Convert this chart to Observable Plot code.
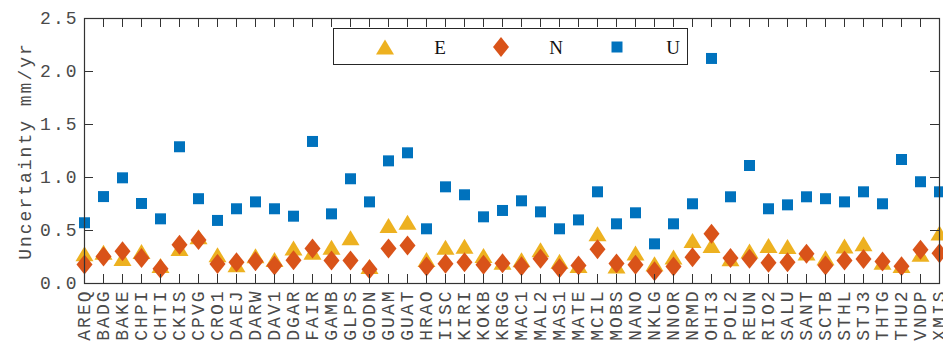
<!DOCTYPE html>
<html>
<head>
<meta charset="utf-8">
<script src="https://cdn.jsdelivr.net/npm/d3@7"></script>
<script src="https://cdn.jsdelivr.net/npm/@observablehq/plot@0.6"></script>
<style>
  html, body { margin: 0; padding: 0; background: #fff; }
  #wrap { position: relative; width: 943px; height: 343px; overflow: hidden; }
  #legend { position: absolute; left: 333px; top: 28px; width: 355px; height: 37px;
    border: 1px solid #262626; background: #fff; box-sizing: border-box; }
  #legend svg { position: absolute; left: 0; top: 0; }
</style>
</head>
<body>
<div id="wrap"></div>
<script>
const stations = ["AREQ","BADG","BAKE","CHPI","CHTI","CKIS","CPVG","CRO1","DAEJ","DARW","DAV1","DGAR","FAIR","GAMB","GLPS","GODN","GUAM","GUAT","HRAO","IISC","KIRI","KOKB","KRGG","MAC1","MAL2","MAS1","MATE","MCIL","MOBS","NANO","NKLG","NNOR","NRMD","OHI3","POL2","REUN","RIO2","SALU","SANT","SCTB","STHL","STJ3","THTG","THU2","VNDP","XMIS"];
const E = [0.28,0.295,0.235,0.30,0.17,0.33,0.44,0.27,0.175,0.26,0.225,0.335,0.295,0.34,0.43,0.16,0.547,0.578,0.226,0.342,0.35,0.264,0.20,0.223,0.318,0.208,0.17,0.469,0.163,0.286,0.186,0.248,0.405,0.358,0.233,0.305,0.358,0.349,0.286,0.242,0.352,0.374,0.20,0.17,0.274,0.475];
const N = [0.18,0.255,0.305,0.24,0.14,0.365,0.41,0.185,0.20,0.21,0.17,0.22,0.33,0.217,0.217,0.135,0.33,0.358,0.16,0.186,0.20,0.176,0.19,0.163,0.233,0.145,0.17,0.324,0.189,0.176,0.116,0.16,0.248,0.469,0.24,0.233,0.195,0.20,0.28,0.17,0.217,0.23,0.207,0.163,0.318,0.286];
const U = [0.573,0.82,0.997,0.755,0.61,1.29,0.80,0.595,0.705,0.77,0.705,0.635,1.34,0.657,0.988,0.77,1.157,1.233,0.516,0.912,0.837,0.629,0.689,0.78,0.676,0.516,0.60,0.865,0.563,0.667,0.374,0.563,0.752,2.123,0.818,1.113,0.705,0.742,0.818,0.80,0.77,0.865,0.752,1.17,0.96,0.865];
const yTicks = [0, 0.5, 1.0, 1.5, 2.0, 2.5];
const seriesNames = ["E", "N", "U"];
const seriesColors = ["#EDB120", "#D95319", "#0072BD"];
const yLabel = "Uncertainty mm/yr";

// custom MATLAB-like marker shapes
const triSym = { draw(ctx) { ctx.moveTo(0, -7.6); ctx.lineTo(9, 7.4); ctx.lineTo(-9, 7.4); ctx.closePath(); } };
const diaSym = { draw(ctx) { ctx.moveTo(0, -10); ctx.lineTo(8, 0); ctx.lineTo(0, 10); ctx.lineTo(-8, 0); ctx.closePath(); } };
const sqSym  = { draw(ctx) { ctx.rect(-5.5, -5.5, 11, 11); } };
const symbols = [triSym, diaSym, sqSym];
const seriesValues = [E, N, U];

const W = 943, H = 343;
const mL = 84, mR = 4, mT = 18, mB = 60;
const innerW = W - mL - mR, innerH = H - mT - mB;
const tickLen = 9;
const font = "'Liberation Mono', 'DejaVu Sans Mono', monospace";

const marks = [];
seriesValues.forEach((vals, k) => {
  const rows = stations.map((s, i) => ({station: s, v: vals[i]}));
  marks.push(Plot.dot(rows, {x: "station", y: "v", symbol: () => symbols[k], r: 6, fill: seriesColors[k], stroke: "none"}));
});
marks.push(
  Plot.frame({stroke: "#333", strokeWidth: 1.2}),
  Plot.tickX(stations, {x: d => d, insetTop: innerH - tickLen, stroke: "#333"}),
  Plot.tickX(stations, {x: d => d, insetBottom: innerH - tickLen, stroke: "#333"}),
  Plot.tickY(yTicks, {y: d => d, insetRight: innerW - tickLen, stroke: "#333"}),
  Plot.tickY(yTicks, {y: d => d, insetLeft: innerW - tickLen, stroke: "#333"}),
  Plot.axisX({tickSize: 0, tickRotate: -90, tickPadding: 6, label: null, fill: "#4a4a4a"}),
  Plot.axisY({ticks: yTicks, tickSize: 0, tickPadding: 6, tickFormat: d3.format(".1f"), label: yLabel, labelAnchor: "center", labelOffset: 66, labelArrow: "none", fill: "#4a4a4a"})
);

const chart = Plot.plot({
  width: W, height: H,
  marginLeft: mL, marginRight: mR, marginTop: mT, marginBottom: mB,
  style: {fontFamily: font, fontSize: "18px", letterSpacing: "2px", color: "#4a4a4a", background: "#fff", overflow: "hidden"},
  x: {type: "point", domain: stations, padding: 0},
  y: {domain: [0, 2.5]},
  marks
});
const wrap = document.getElementById("wrap");
wrap.appendChild(chart);

// legend overlay
const legend = document.createElement("div");
legend.id = "legend";
wrap.appendChild(legend);
const lsvg = d3.select(legend).append("svg").attr("width", 355).attr("height", 37);
const symX = [51, 167, 283], txtX = [106, 222, 339];
seriesNames.forEach((name, k) => {
  lsvg.append("path").attr("d", d3.symbol(symbols[k])()).attr("fill", seriesColors[k])
    .attr("transform", `translate(${symX[k]},18)`);
  lsvg.append("text").attr("x", txtX[k]).attr("y", 18).attr("dy", "0.35em")
    .attr("text-anchor", "middle").attr("font-family", "'Liberation Serif', serif")
    .attr("font-size", 19).attr("fill", "#111").text(name);
});
</script>
</body>
</html>
